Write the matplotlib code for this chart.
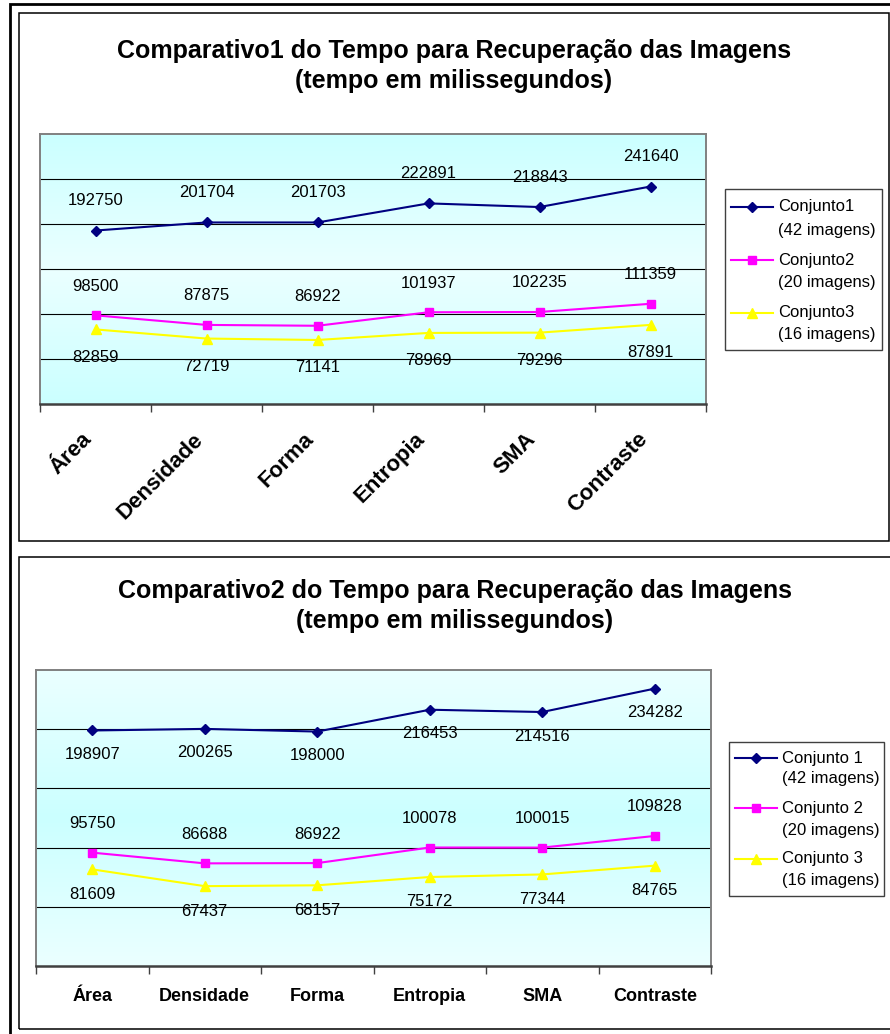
import matplotlib
matplotlib.use("Agg")
import matplotlib.pyplot as plt
import numpy as np
from matplotlib.patches import Rectangle
from matplotlib.lines import Line2D
from matplotlib.colors import LinearSegmentedColormap
from matplotlib.transforms import ScaledTranslation

plt.rcParams['font.family'] = ['Liberation Sans', 'DejaVu Sans']

W, H = 890, 1034

categorias = ["Área", "Densidade", "Forma", "Entropia", "SMA", "Contraste"]

titulo1 = "Comparativo1 do Tempo para Recuperação das Imagens\n(tempo em milissegundos)"
titulo2 = "Comparativo2 do Tempo para Recuperação das Imagens\n(tempo em milissegundos)"

c1_conj1 = [192750, 201704, 201703, 222891, 218843, 241640]
c1_conj2 = [98500, 87875, 86922, 101937, 102235, 111359]
c1_conj3 = [82859, 72719, 71141, 78969, 79296, 87891]

c2_conj1 = [198907, 200265, 198000, 216453, 214516, 234282]
c2_conj2 = [95750, 86688, 86922, 100078, 100015, 109828]
c2_conj3 = [81609, 67437, 68157, 75172, 77344, 84765]

legenda1 = ["Conjunto1", "Conjunto2", "Conjunto3"]
legenda2 = ["Conjunto 1", "Conjunto 2", "Conjunto 3"]
imagens = ["(42 imagens)", "(20 imagens)", "(16 imagens)"]

cores = ["#000080", "#FF00FF", "#FFFF00"]
marcadores = ["D", "s", "^"]
tam_marcador = [5.2, 6.3, 7.5]

fig = plt.figure(figsize=(W / 100, H / 100), dpi=100)


def fx(x):
    return x / W


def fy(y):
    return 1 - y / H


def caixa(x0, y0, x1, y1, lw=1.0, color="black"):
    fig.add_artist(Rectangle((fx(x0), fy(y1)), (x1 - x0) / W, (y1 - y0) / H,
                             transform=fig.transFigure, fill=False,
                             edgecolor=color, lw=lw))


# outer frame and the two chart frames
caixa(10, 4, 905, 1045, lw=2.0)
caixa(19, 13, 889, 541, lw=1.1)
caixa(19, 557, 905, 1029, lw=1.1)

claro, ciano = "#EBFFFF", "#CBFFFF"
cmap = LinearSegmentedColormap.from_list("fundo", [claro, ciano])


def painel(px, series, ymax, desloc, centro_ciano, rot, fs_cat, pad, dx_cat):
    x0, y0, x1, y1 = px
    ax = fig.add_axes([fx(x0), fy(y1), (x1 - x0) / W, (y1 - y0) / H])
    n = len(categorias)
    x = np.arange(n)

    s = np.linspace(0, 1, 256)[:, None]
    t = np.abs(2 * s - 1)
    grad = 1 - t if centro_ciano else t
    ax.imshow(grad, extent=[-0.5, n - 0.5, 0, ymax], aspect="auto",
              cmap=cmap, vmin=0, vmax=1, zorder=0, interpolation="bilinear")

    for v in range(50000, ymax, 50000):
        ax.axhline(v, color="black", lw=0.8, zorder=1)

    for k, vals in enumerate(series):
        ax.plot(x, vals, color=cores[k], lw=1.5, marker=marcadores[k],
                ms=tam_marcador[k], mfc=cores[k], mec=cores[k], zorder=3)
        for i, v in enumerate(vals):
            ax.annotate(str(v), (i, v), xytext=(0, desloc[k]),
                        textcoords="offset pixels", ha="center", va="center",
                        fontsize=12, zorder=4)

    ax.set_xlim(-0.5, n - 0.5)
    ax.set_ylim(0, ymax)
    ax.set_yticks([])
    ax.set_xticks(np.arange(n + 1) - 0.5)
    ax.set_xticklabels([])
    ax.set_xticks(x, minor=True)
    ax.tick_params(axis="x", which="major", length=5.8, width=1.0,
                   color="#404040", direction="out")
    ax.tick_params(axis="x", which="minor", length=0, pad=pad)
    if rot:
        ax.set_xticklabels(categorias, minor=True, rotation=45, ha="right",
                           va="top", rotation_mode="anchor",
                           fontsize=fs_cat, fontweight="bold")
    else:
        ax.set_xticklabels(categorias, minor=True, fontsize=fs_cat,
                           fontweight="bold")
    off = ScaledTranslation(dx_cat / 100, 0, fig.dpi_scale_trans)
    for lab in ax.get_xticklabels(minor=True):
        lab.set_transform(lab.get_transform() + off)

    for lado in ("left", "top", "right"):
        ax.spines[lado].set_color("#808080")
        ax.spines[lado].set_linewidth(1.4)
    ax.spines["bottom"].set_color("#404040")
    ax.spines["bottom"].set_linewidth(1.8)
    return ax


def legenda(bx, linhas_y, nomes, xh0, xh1, xt):
    caixa(*bx, lw=1.0, color="#404040")
    for k in range(3):
        ya = linhas_y[2 * k]
        fig.add_artist(Line2D([fx(xh0), fx(xh1)], [fy(ya), fy(ya)],
                              transform=fig.transFigure, color=cores[k], lw=1.5))
        fig.add_artist(Line2D([fx((xh0 + xh1) / 2)], [fy(ya)],
                              transform=fig.transFigure, color=cores[k],
                              marker=marcadores[k], ms=tam_marcador[k],
                              mfc=cores[k], mec=cores[k], lw=0))
        fig.text(fx(xt), fy(ya), nomes[k], ha="left", va="center", fontsize=12)
        fig.text(fx(xt), fy(linhas_y[2 * k + 1]), imagens[k], ha="left",
                 va="center", fontsize=12)


# chart 1
fig.text(fx(454), fy(66), titulo1, ha="center", va="center", fontsize=18,
         fontweight="bold", linespacing=1.35)
painel((40, 134, 706, 404), [c1_conj1, c1_conj2, c1_conj3], 300000,
       [30, 29, -28], False, True, 16, 18, -14)
legenda((725, 189, 882, 350), [207, 230, 260, 283, 313, 335], legenda1,
        731, 773, 778)

# chart 2
fig.text(fx(455), fy(606), titulo2, ha="center", va="center", fontsize=18,
         fontweight="bold", linespacing=1.35)
painel((36, 670, 711, 966), [c2_conj1, c2_conj2, c2_conj3], 250000,
       [-24, 29, -25], True, False, 13, 16, 0)
legenda((729, 742, 884, 896), [758, 779, 808, 831, 859, 881], legenda2,
        735, 777, 782)

fig.savefig("out.png", dpi=100)
